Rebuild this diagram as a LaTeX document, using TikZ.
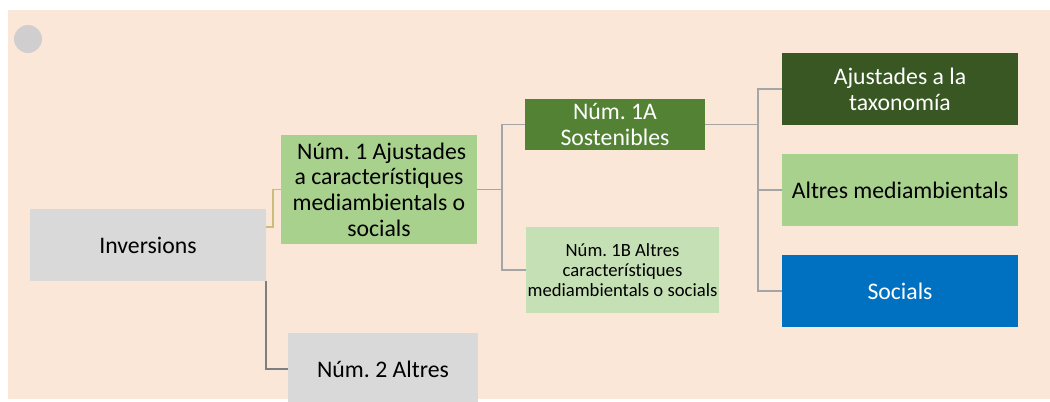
\documentclass[tikz,border=0pt]{standalone}
\usepackage{fontspec}
\setmainfont{Carlito}[Ligatures={NoCommon}]
\frenchspacing
\definecolor{peach}{HTML}{FBE7D7}
\definecolor{boxgray}{HTML}{D9D9D9}
\definecolor{circgray}{HTML}{D0CECE}
\definecolor{lgreen}{HTML}{A9D18E}
\definecolor{mgreen}{HTML}{548235}
\definecolor{pgreen}{HTML}{C5E0B4}
\definecolor{dgreen}{HTML}{385723}
\definecolor{oblue}{HTML}{0070C0}
\definecolor{linegray}{HTML}{A5A5A5}
\definecolor{darkline}{HTML}{7F7F7F}
\definecolor{tanline}{HTML}{CDBB7A}
\begin{document}
\begin{tikzpicture}[x=0.75pt,y=-0.75pt,
  box/.style={rectangle,inner sep=0pt,outer sep=0pt,align=center,
    font=\fontsize{17.8}{19.3}\selectfont,text=black},
  conn/.style={draw=linegray,line width=1.1pt},
]
\useasboundingbox (0,0) rectangle (1050,401);
\begin{scope}
\clip (0,0) rectangle (1050,401);
\fill[peach] (8,10) rectangle (1050,399);
\fill[circgray] (28,39) circle[radius=14];
\node[box,fill=boxgray,minimum width=236*0.75pt,minimum height=72*0.75pt] (inv) at (148,245) {Inversions};
\node[box,fill=lgreen,minimum width=196*0.75pt,minimum height=109*0.75pt] (n1) at (379,189.5) {\ Núm. 1 Ajustades\\a característiques\\mediambientals o\\socials};
\node[box,fill=boxgray,minimum width=190*0.75pt,minimum height=72*0.75pt] (n2) at (383,369) {Núm. 2 Altres};
\node[box,fill=mgreen,text=white,minimum width=180*0.75pt,minimum height=51*0.75pt] (a1) at (615,124.5) {Núm. 1A\\Sostenibles};
\node[box,fill=pgreen,minimum width=193*0.75pt,minimum height=86*0.75pt,font=\fontsize{14}{15}\selectfont] (b1) at (622.5,270) {Núm. 1B Altres\\característiques\\mediambientals o socials};
\node[box,fill=dgreen,text=white,minimum width=236*0.75pt,minimum height=72*0.75pt] (t1) at (900,89) {Ajustades a la\\taxonomía};
\node[box,fill=lgreen,minimum width=236*0.75pt,minimum height=72*0.75pt] (t2) at (900,190) {Altres mediambientals};
\node[box,fill=oblue,text=white,minimum width=236*0.75pt,minimum height=72*0.75pt] (t3) at (900,291) {Socials};
\end{scope}
\draw[conn,draw=tanline] ([yshift=13.5pt]inv.east) -- ++(7,0) |- (n1.west);
\draw[conn,draw=darkline] (inv.south east) |- (n2.west);
\draw[conn] (n1.east) -- ++(25,0) coordinate (j1);
\draw[conn] (j1) |- (a1.west);
\draw[conn] (j1) |- (b1.west);
\draw[conn] (a1.east) -- ++(53,0) coordinate (j2);
\draw[conn] (j2) |- (t1.west);
\draw[conn] (j2) |- (t2.west);
\draw[conn] (j2) |- (t3.west);
\end{tikzpicture}
\end{document}
